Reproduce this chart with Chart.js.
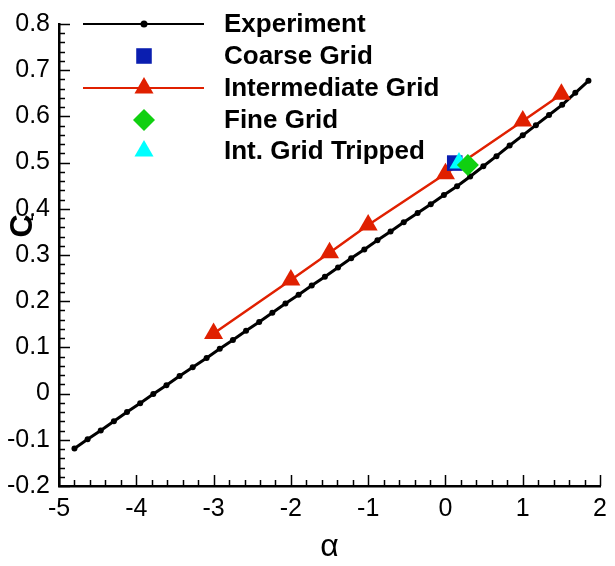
<!DOCTYPE html>
<html>
<head>
<meta charset="utf-8">
<style>
  html, body { margin: 0; padding: 0; background: #fff; }
</style>
<script src="https://cdn.jsdelivr.net/npm/chart.js@4.4.1/dist/chart.umd.min.js"></script>
</head>
<body>
<canvas id="myChart" width="615" height="566"></canvas>
<script>
// data
const expAlpha = [-4.80, -4.63, -4.46, -4.29, -4.12, -3.95, -3.78, -3.61, -3.44, -3.27,
  -3.09, -2.92, -2.75, -2.58, -2.41, -2.24, -2.07, -1.90, -1.73, -1.56,
  -1.39, -1.22, -1.05, -0.88, -0.71, -0.54, -0.36, -0.19, -0.02, 0.15,
  0.32, 0.49, 0.66, 0.83, 1.00, 1.17, 1.34, 1.51, 1.68, 1.85];
const expCl = [-0.119, -0.099, -0.080, -0.060, -0.040, -0.021, -0.001, 0.018, 0.038, 0.057,
  0.077, 0.097, 0.116, 0.136, 0.155, 0.175, 0.195, 0.214, 0.234, 0.253,
  0.273, 0.293, 0.312, 0.332, 0.351, 0.371, 0.391, 0.410, 0.430, 0.449,
  0.470, 0.492, 0.514, 0.537, 0.559, 0.581, 0.603, 0.625, 0.651, 0.677];
const interAlpha = [-3, -2, -1.5, -1, 0, 1, 1.5];
const interCl = [0.13, 0.246, 0.305, 0.365, 0.476, 0.59, 0.648];
const coarseAlpha = [0.12];
const coarseCl = [0.499];
const fineAlpha = [0.29];
const fineCl = [0.495];
const trippedAlpha = [0.175];
const trippedCl = [0.499];

const xTicks = [-5, -4, -3, -2, -1, 0, 1, 2];
const yTicks = [-0.2, -0.1, 0, 0.1, 0.2, 0.3, 0.4, 0.5, 0.6, 0.7, 0.8];
const xTitle = "α";
const yTitle = "C";
const yTitleSub = "L";

function pts(xs, ys) {
  return xs.map(function (x, i) { return { x: x, y: ys[i] }; });
}

const FONT = "'Liberation Sans', Arial, sans-serif";

// inward tick marks, legend, and y title
const extras = {
  id: "extras",
  afterDraw(chart) {
    const ctx = chart.ctx;
    const xs = chart.scales.x;
    const ys = chart.scales.y;
    const area = chart.chartArea;
    ctx.save();
    ctx.strokeStyle = "#000";
    ctx.lineWidth = 1.5;
    // x ticks
    for (let i = 0; i <= 35; i++) {
      const v = xTicks[0] + i * 0.2;
      const px = Math.round(xs.getPixelForValue(v)) + 0.5;
      const len = i % 5 === 0 ? 11 : 6;
      ctx.beginPath();
      ctx.moveTo(px, area.bottom);
      ctx.lineTo(px, area.bottom - len);
      ctx.stroke();
    }
    // y ticks
    for (let i = 0; i <= 50; i++) {
      const v = yTicks[0] + i * 0.02;
      const py = Math.round(ys.getPixelForValue(v)) + 0.5;
      const len = i % 5 === 0 ? 11 : 6;
      ctx.beginPath();
      ctx.moveTo(area.left, py);
      ctx.lineTo(area.left + len, py);
      ctx.stroke();
    }

    // legend
    const rowY = [24, 56, 88, 120, 151];
    chart.data.datasets.forEach(function (ds, r) {
      const y = rowY[r];
      if (ds.showLine) {
        ctx.strokeStyle = ds.borderColor;
        ctx.lineWidth = 2.2;
        ctx.beginPath();
        ctx.moveTo(83, y);
        ctx.lineTo(204, y);
        ctx.stroke();
      }
      const style = {
        pointStyle: ds.pointStyle,
        radius: ds.legendRadius,
        rotation: 0,
        borderWidth: 0
      };
      ctx.fillStyle = ds.pointBackgroundColor;
      ctx.strokeStyle = ds.pointBackgroundColor;
      ctx.lineWidth = 0;
      Chart.helpers.drawPoint(ctx, style, 144, y);
      ctx.fillStyle = "#000";
      ctx.font = "bold 26px " + FONT;
      ctx.textAlign = "left";
      ctx.textBaseline = "middle";
      ctx.fillText(ds.label, 224, y + 1);
    });

    // y title with subscript
    ctx.translate(23, 226);
    ctx.rotate(-Math.PI / 2);
    ctx.fillStyle = "#000";
    ctx.textAlign = "center";
    ctx.textBaseline = "middle";
    ctx.font = "bold 32px " + FONT;
    ctx.fillText(yTitle, 0, 0);
    ctx.textAlign = "left";
    ctx.font = "bold 12px " + FONT;
    ctx.fillText(yTitleSub, 5, 7);
    ctx.restore();
  }
};

const ctx = document.querySelector("#myChart");
const chart = new Chart(ctx, {
  type: "scatter",
  data: {
    datasets: [
      {
        label: "Experiment",
        data: pts(expAlpha, expCl),
        showLine: true,
        borderColor: "#000",
        borderWidth: 3,
        pointStyle: "circle",
        pointRadius: 3,
        pointBackgroundColor: "#000",
        pointBorderWidth: 0,
        legendRadius: 3.5,
        order: 5
      },
      {
        label: "Coarse Grid",
        data: pts(coarseAlpha, coarseCl),
        showLine: false,
        pointStyle: "rect",
        pointRadius: 11,
        pointBackgroundColor: "#0a1eb0",
        pointBorderWidth: 0,
        legendRadius: 11,
        order: 3
      },
      {
        label: "Intermediate Grid",
        data: pts(interAlpha, interCl),
        showLine: true,
        borderColor: "#e02000",
        borderWidth: 2.5,
        pointStyle: "triangle",
        pointRadius: 11,
        pointBackgroundColor: "#e02000",
        pointBorderWidth: 0,
        legendRadius: 11,
        order: 4
      },
      {
        label: "Fine Grid",
        data: pts(fineAlpha, fineCl),
        showLine: false,
        pointStyle: "rectRot",
        pointRadius: 11,
        pointBackgroundColor: "#10d010",
        pointBorderWidth: 0,
        legendRadius: 11,
        order: 1
      },
      {
        label: "Int. Grid Tripped",
        data: pts(trippedAlpha, trippedCl),
        showLine: false,
        pointStyle: "triangle",
        pointRadius: 11,
        pointBackgroundColor: "#00ffff",
        pointBorderWidth: 0,
        legendRadius: 11,
        order: 2
      }
    ]
  },
  options: {
    responsive: false,
    animation: false,
    devicePixelRatio: 1,
    layout: { padding: { top: 15, right: 12, left: 0, bottom: 0 } },
    plugins: {
      legend: { display: false },
      tooltip: { enabled: false }
    },
    scales: {
      x: {
        type: "linear",
        min: xTicks[0],
        max: xTicks[xTicks.length - 1],
        afterBuildTicks(scale) {
          scale.ticks = xTicks.map(function (v) { return { value: v }; });
        },
        ticks: {
          color: "#000",
          font: { family: FONT, size: 25 },
          padding: 8,
          maxRotation: 0,
          autoSkip: false,
          callback: function (v) { return String(v); }
        },
        grid: { display: false, drawTicks: false },
        border: { display: true, color: "#000", width: 2.5 },
        title: {
          display: true,
          text: xTitle,
          color: "#000",
          font: { family: FONT, size: 32 },
          padding: { top: 0, bottom: 0 }
        },
        afterFit(scale) { scale.height = 80; }
      },
      y: {
        type: "linear",
        min: yTicks[0],
        max: yTicks[yTicks.length - 1],
        afterBuildTicks(scale) {
          scale.ticks = yTicks.map(function (v) { return { value: v }; });
        },
        ticks: {
          color: "#000",
          font: { family: FONT, size: 25 },
          padding: 9,
          autoSkip: false,
          callback: function (v) { return String(Number(v.toFixed(1))); }
        },
        grid: { display: false, drawTicks: false },
        border: { display: true, color: "#000", width: 2.5 },
        afterFit(scale) { scale.width = 59; }
      }
    }
  },
  plugins: [extras]
});
</script>
</body>
</html>
